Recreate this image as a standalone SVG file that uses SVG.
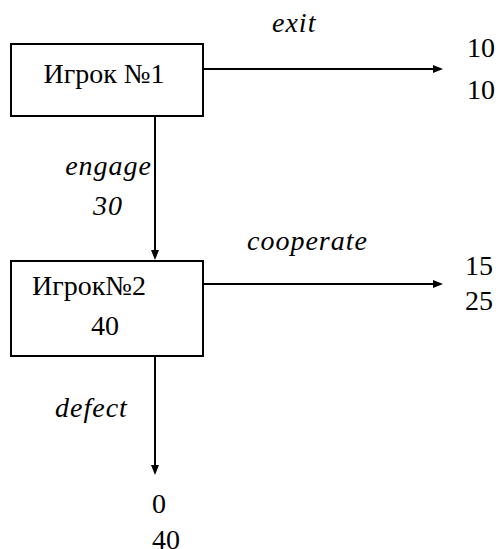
<svg xmlns="http://www.w3.org/2000/svg" width="499" height="549" viewBox="0 0 499 549">
  <rect width="499" height="549" fill="#fff"/>

  <!-- arrows between the decision nodes and to the payoffs -->
  <g id="connectors" stroke="#000" stroke-width="2">
    <line x1="203" y1="69" x2="436" y2="69"/>
    <polygon points="443,69 433,65 433,73" fill="#000" stroke="none"/>
    <line x1="155" y1="116" x2="155" y2="253"/>
    <polygon points="155,260 151,250 159,250" fill="#000" stroke="none"/>
    <line x1="203" y1="284" x2="436" y2="284"/>
    <polygon points="443,284 433,280 433,288" fill="#000" stroke="none"/>
    <line x1="155" y1="356" x2="155" y2="468"/>
    <polygon points="155,475 151,465 159,465" fill="#000" stroke="none"/>
  </g>

  <g id="player1">
    <rect x="11" y="44" width="192" height="72" fill="#fff" stroke="#000" stroke-width="2"/>
    <text x="104" y="83" text-anchor="middle" font-family="Liberation Serif" font-size="28">Игрок №1</text>
  </g>

  <g id="player2">
    <rect x="11" y="261" width="192" height="95" fill="#fff" stroke="#000" stroke-width="2"/>
    <text x="32" y="295" font-family="Liberation Serif" font-size="28">Игрок№2</text>
    <text x="105" y="335" text-anchor="middle" font-family="Liberation Serif" font-size="28">40</text>
  </g>

  <!-- move labels -->
  <g id="labels">
    <text x="272" y="32" font-family="Liberation Serif" font-size="28" font-style="italic" letter-spacing="1">exit</text>
    <text x="152" y="175" text-anchor="end" font-family="Liberation Serif" font-size="28" font-style="italic" letter-spacing="1">engage</text>
    <text x="108" y="215" text-anchor="middle" font-family="Liberation Serif" font-size="28" font-style="italic" letter-spacing="1">30</text>
    <text x="247" y="250" font-family="Liberation Serif" font-size="28" font-style="italic" letter-spacing="1">cooperate</text>
    <text x="55" y="417" font-family="Liberation Serif" font-size="28" font-style="italic" letter-spacing="1">defect</text>
  </g>

  <!-- payoffs -->
  <g id="payoffs">
    <text x="467" y="57" font-family="Liberation Serif" font-size="28">10</text>
    <text x="467" y="99" font-family="Liberation Serif" font-size="28">10</text>
    <text x="465" y="275" font-family="Liberation Serif" font-size="28">15</text>
    <text x="465" y="310" font-family="Liberation Serif" font-size="28">25</text>
    <text x="152" y="513" font-family="Liberation Serif" font-size="28">0</text>
    <text x="152" y="549" font-family="Liberation Serif" font-size="28">40</text>
  </g>
</svg>
